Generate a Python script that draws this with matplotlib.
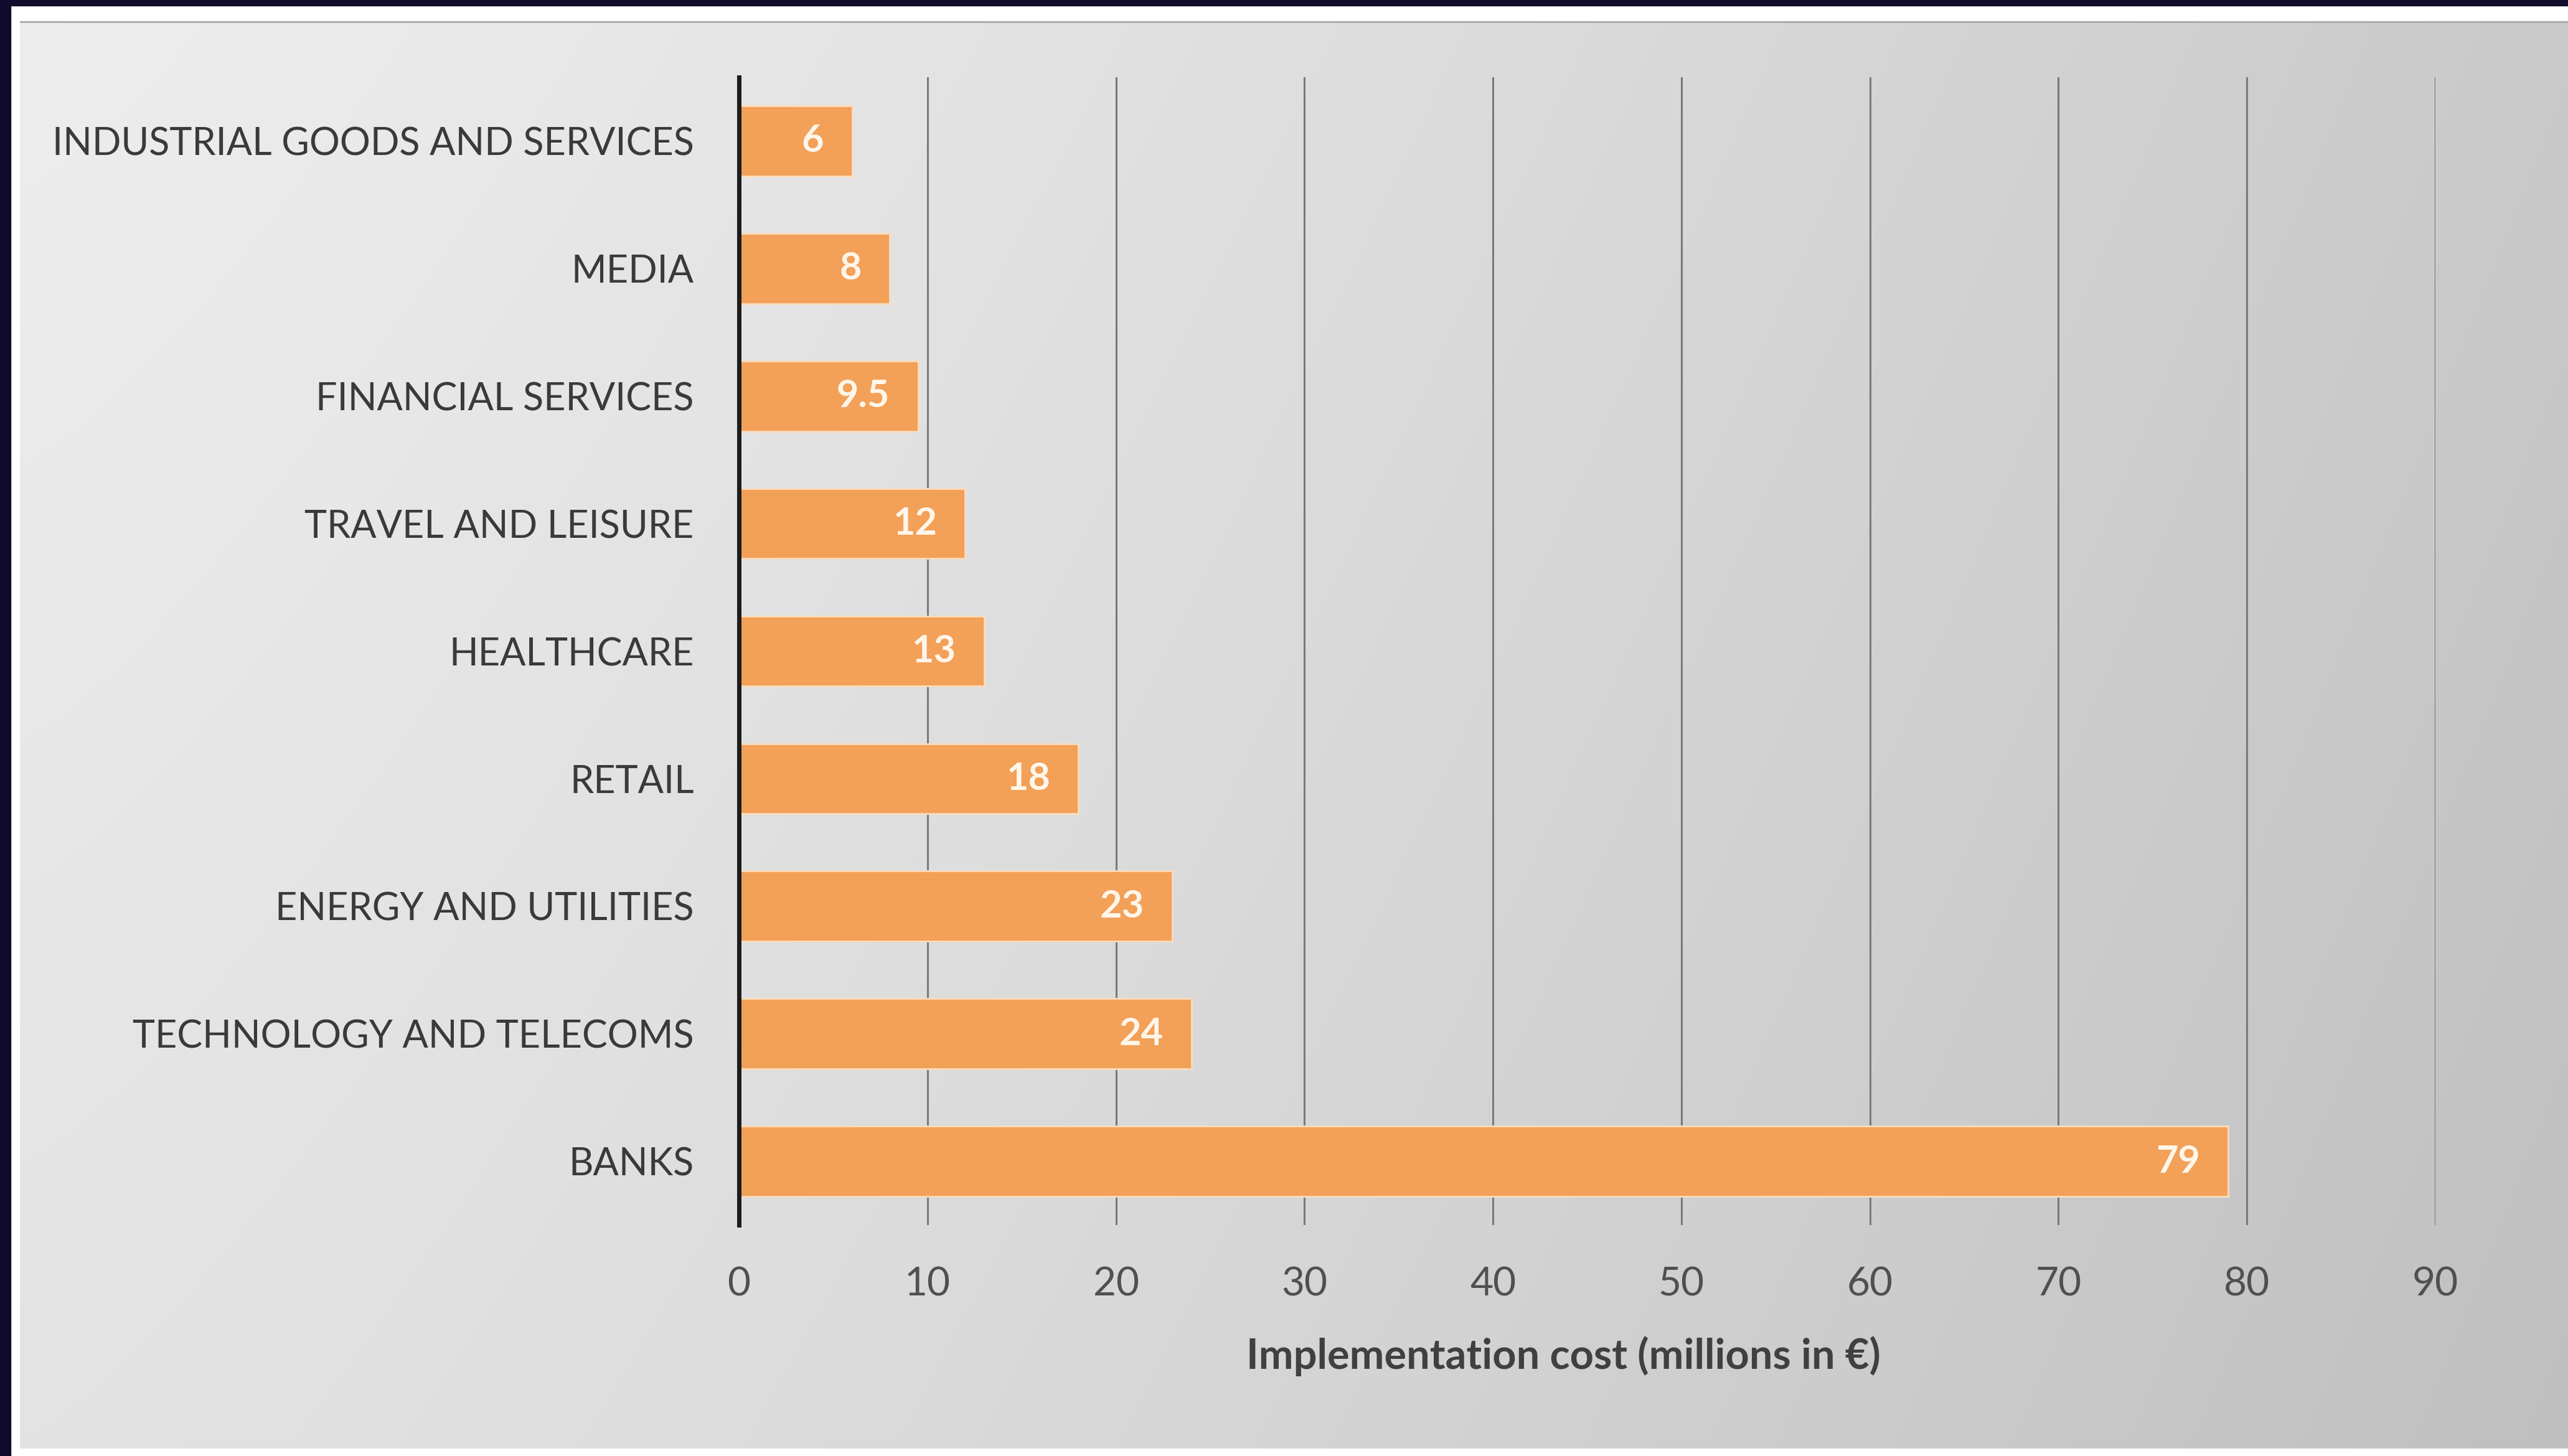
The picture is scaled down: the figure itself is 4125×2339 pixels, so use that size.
import numpy as np
import matplotlib
matplotlib.use("Agg")
import matplotlib.pyplot as plt
from matplotlib.patches import Rectangle

# Data (top to bottom as shown)
sectors = ["INDUSTRIAL GOODS AND SERVICES", "MEDIA", "FINANCIAL SERVICES",
           "TRAVEL AND LEISURE", "HEALTHCARE", "RETAIL", "ENERGY AND UTILITIES",
           "TECHNOLOGY AND TELECOMS", "BANKS"]
costs = [6, 8, 9.5, 12, 13, 18, 23, 24, 79]
cost_labels = ["6", "8", "9.5", "12", "13", "18", "23", "24", "79"]
xticks = [0, 10, 20, 30, 40, 50, 60, 70, 80, 90]

W, H = 4125, 2339
fig = plt.figure(figsize=(W / 100, H / 100), dpi=100)
fig.patch.set_facecolor("white")

# navy frame on top and left
navy = "#120c2c"
fig.patches.append(Rectangle((0, 1 - 9 / H), 1, 9 / H, transform=fig.transFigure,
                             color=navy, zorder=0))
fig.patches.append(Rectangle((0, 0), 17 / W, 1, transform=fig.transFigure,
                             color=navy, zorder=0))

# gradient panel
bg = fig.add_axes([32 / W, 12 / H, 1 - 32 / W, (H - 34 - 12) / H], zorder=-1)
xx, yy = np.meshgrid(np.linspace(0, 1, 400), np.linspace(0, 1, 200))
shade = 0.93 - 0.14 * xx ** 1.3 - 0.04 * yy
bg.imshow(np.dstack([shade, shade, shade]), aspect="auto", extent=[0, 1, 0, 1],
          interpolation="bilinear")
bg.axhline(1, color="#a8a8a8", lw=4)
bg.set_axis_off()

ax = fig.add_axes([1187 / W, 1 - 1968 / H, (3912 - 1187) / W, (1968 - 124) / H])
ax.patch.set_alpha(0)

y = np.arange(len(sectors))
ax.barh(y, costs, height=0.55, color="#f3a058", edgecolor="#fbdcbc",
        linewidth=2, zorder=3)
for yi, v, lab in zip(y, costs, cost_labels):
    ax.text(v - 1.5, yi, lab, ha="right", va="center", color="#fff6ea",
            fontsize=44, fontweight="bold", fontfamily="Lato", zorder=4)

ax.set_xlim(0, 90)
ax.set_ylim(len(sectors) - 0.5, -0.5)
ax.set_yticks(y)
ax.set_yticklabels(sectors, fontsize=44, color="#3a3a3a", fontfamily="Lato")
ax.set_xticks(xticks)
ax.set_xticklabels([str(t) for t in xticks], fontsize=46, color="#505050",
                   fontfamily="Lato")
ax.tick_params(axis="y", length=0, pad=52)
ax.tick_params(axis="x", length=0, pad=48)
ax.grid(axis="x", color="#7a7a7a", linewidth=2.2, zorder=1)
ax.set_axisbelow(True)
for side in ["top", "right", "bottom"]:
    ax.spines[side].set_visible(False)
ax.spines["left"].set_color("#1c1c1c")
ax.spines["left"].set_linewidth(5)
ax.spines["left"].set_zorder(5)

xl = ax.set_xlabel("Implementation cost (millions in €)", fontsize=48,
                   fontweight="bold", color="#404040", fontfamily="Lato")
ax.xaxis.set_label_coords(0.486, -0.114)
xl.set_va("center")

fig.savefig("out.png", dpi=100)
